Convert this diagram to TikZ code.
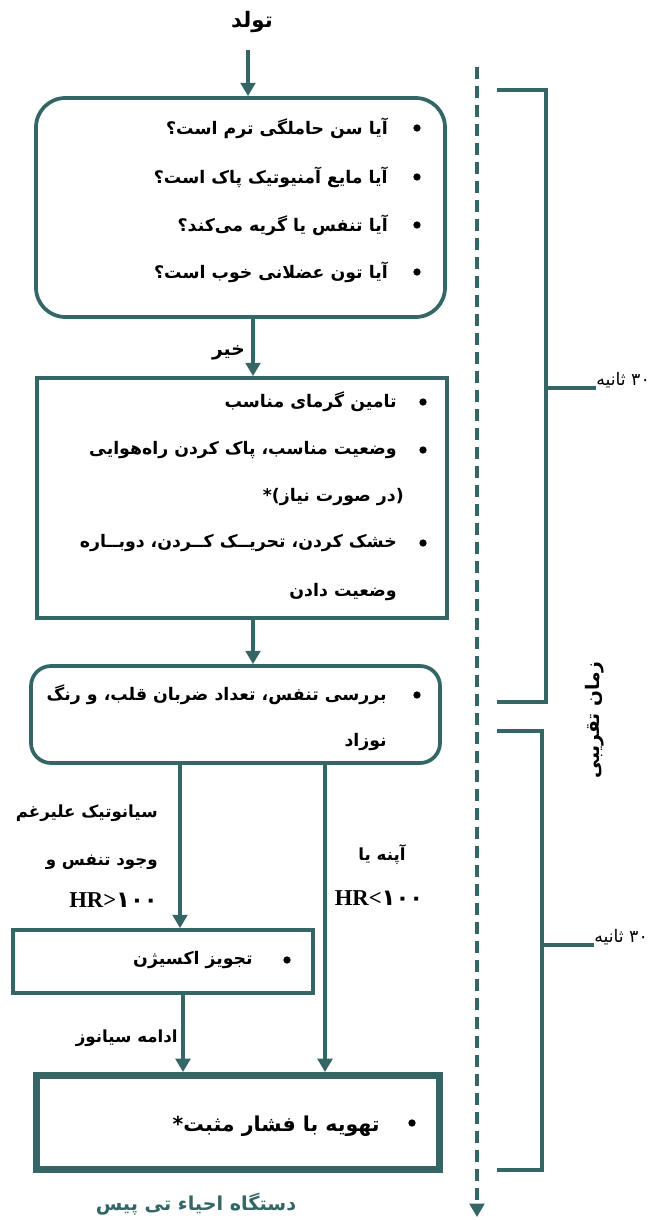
\documentclass[tikz,border=0pt]{standalone}
\usepackage{fontspec}
\setmainfont{Liberation Serif}
\newfontfamily\fa[Script=Arabic]{DejaVu Sans}
\TeXXeTstate=1
\usetikzlibrary{arrows.meta,calc,fit}
\definecolor{teal1}{RGB}{52,102,102}
\begin{document}
\begin{tikzpicture}[x=0.75pt,y=-0.75pt,
  ln/.style={draw=teal1, line width=2.8pt},
  thick5/.style={draw=teal1, line width=5.2pt},
  brk/.style={draw=teal1, line width=2.4pt},
  arr/.style={draw=teal1, line width=2.5pt, -{Triangle[width=11pt,length=10pt]}},
  dashline/.style={draw=teal1, line width=2.3pt, dash pattern=on 9pt off 5.25pt, -{Triangle[width=11pt,length=10pt]}},
  txt/.style={font=\fa\bfseries\fontsize{13}{15}\selectfont, inner sep=0pt, anchor=east},
  cl/.style={font=\fa\bfseries\fontsize{12.5}{14}\selectfont, inner sep=0pt, anchor=east},
  lbl/.style={font=\fa\bfseries\fontsize{12.5}{14}\selectfont, inner sep=0pt},
  sec/.style={font=\fa\fontsize{13}{15}\selectfont, inner sep=0pt, anchor=west},
  bul/.style={circle, fill=black, inner sep=0pt, minimum size=5.5pt},
  hr/.style={font=\bfseries\fontsize{17}{19}\selectfont, inner sep=0pt}
]
\useasboundingbox (0,0) rectangle (666,1220);

% title
\node[lbl, font=\fa\bfseries\fontsize{16}{18}\selectfont] (t) at (252,22) {\beginR تولد\endR};

% boxes
\node[ln, rounded corners=22pt, inner sep=0pt, fit={(36,98) (445,317)}] (b1) {};
\node[ln, inner sep=0pt, fit={(37,378) (447,618)}] (b2) {};
\node[ln, rounded corners=15pt, inner sep=0pt, fit={(31,666) (440,763)}] (b3) {};
\node[ln, inner sep=0pt, fit={(13,930) (313,993)}] (b4) {};
\node[thick5, inner sep=0pt, fit={(36.5,1075.5) (439.5,1169.5)}] (b5) {};

% box 1 text
\node[bul] (p11) at (417,128) {};
\node[txt] (l11) at (388,128) {\beginR آیا سن حاملگی ترم است؟\endR};
\node[bul] (p12) at (417,177) {};
\node[txt] (l12) at (388,177) {\beginR آیا مایع آمنیوتیک پاک است؟\endR};
\node[bul] (p13) at (417,225) {};
\node[txt] (l13) at (388,225) {\beginR آیا تنفس یا گریه می‌کند؟\endR};
\node[bul] (p14) at (417,272) {};
\node[txt] (l14) at (388,272) {\beginR آیا تون عضلانی خوب است؟\endR};

% box 2 text
\node[bul] (p21) at (423,402) {};
\node[txt] (l21) at (397,402) {\beginR تامین گرمای مناسب\endR};
\node[bul] (p22) at (423,450) {};
\node[txt] (l22) at (397,450) {\beginR وضعیت مناسب، پاک کردن راه‌هوایی\endR};
\node[txt] (l23) at (404,497) {\beginR (در صورت نیاز)*\endR};
\node[bul] (p24) at (423,543) {};
\node[txt] (l24) at (397,543) {\beginR خشک کردن، تحریــک کــردن، دوبــاره\endR};
\node[txt] (l25) at (397,592) {\beginR وضعیت دادن\endR};

% box 3 text
\node[bul] (p31) at (417,695) {};
\node[txt] (l31) at (387,695) {\beginR بررسی تنفس، تعداد ضربان قلب، و رنگ\endR};
\node[txt] (l32) at (387,742) {\beginR نوزاد\endR};

% box 4 text
\node[bul] (p41) at (287,960) {};
\node[txt] (l41) at (253,960) {\beginR تجویز اکسیژن\endR};

% box 5 text
\node[bul] (p51) at (412,1123) {};
\node[txt, font=\fa\bfseries\fontsize{15.4}{17}\selectfont] (l51) at (380,1126) {\beginR تهویه با فشار مثبت*\endR};

% connector x positions
\coordinate (xt) at (248,0);
\coordinate (xa) at (253,0);
\coordinate (xl) at (180,0);
\coordinate (xr) at (325,0);
\coordinate (xc) at (183,0);

\draw[arr] ($(t.south -| xt)+(0,17)$) -- (b1.north -| xt);
\draw[arr] (b1.south -| xa) -- (b2.north -| xa);
\draw[arr] (b2.south -| xa) -- (b3.north -| xa);
\draw[arr] (b3.south -| xl) -- (b4.north -| xl);
\draw[arr] (b3.south -| xr) -- (b5.north -| xr);
\draw[arr] (b4.south -| xc) -- (b5.north -| xc);

% connector labels
\node[cl, font=\fa\bfseries\fontsize{14}{16}\selectfont] (no) at (245,353) {\beginR خیر\endR};
\node[cl] (c1) at (158,813) {\beginR سیانوتیک علیرغم\endR};
\node[cl] (c2) at (158,862) {\beginR وجود تنفس و\endR};
\node[hr, anchor=east] (c3) at (158,900) {HR>{\fa ۱۰۰}};
\node[lbl] (d1) at (382,855) {\beginR آپنه یا\endR};
\node[hr] (d2) at (379,898) {HR<{\fa ۱۰۰}};
\node[cl] (e1) at (178,1038) {\beginR ادامه سیانوز\endR};

% footer
\node[lbl, text=teal1, font=\fa\bfseries\fontsize{14.4}{16}\selectfont] (ft) at (196,1204) {\beginR دستگاه احیاء تی پیس\endR};

% time axis
\coordinate (ds) at (477,67);
\coordinate (de) at (477,1217);
\draw[dashline] (ds) -- (de);

% bracket 1
\coordinate (k1a) at (497,90);
\coordinate (k1b) at (546,90);
\coordinate (k1c) at (546,702);
\coordinate (k1d) at (497,702);
\coordinate (k1m) at (546,388);
\draw[brk] (k1a) -- (k1b) -- (k1c) -- (k1d);
\node[sec] (s1) at (596,380) {\beginR\beginL ۳۰\endL{} ثانیه\endR};
\draw[brk] (k1m) -- (s1.west |- k1m);

% bracket 2
\coordinate (k2a) at (497,731);
\coordinate (k2b) at (542,731);
\coordinate (k2c) at (542,1170);
\coordinate (k2d) at (497,1170);
\coordinate (k2m) at (542,945);
\draw[brk] (k2a) -- (k2b) -- (k2c) -- (k2d);
\node[sec] (s2) at (594,937) {\beginR\beginL ۳۰\endL{} ثانیه\endR};
\draw[brk] (k2m) -- (s2.west |- k2m);

% axis label
\node[lbl, rotate=90, font=\fa\bfseries\fontsize{14}{16}\selectfont] (zt) at (595,720) {\beginR زمان تقریبی\endR};
\end{tikzpicture}
\end{document}
